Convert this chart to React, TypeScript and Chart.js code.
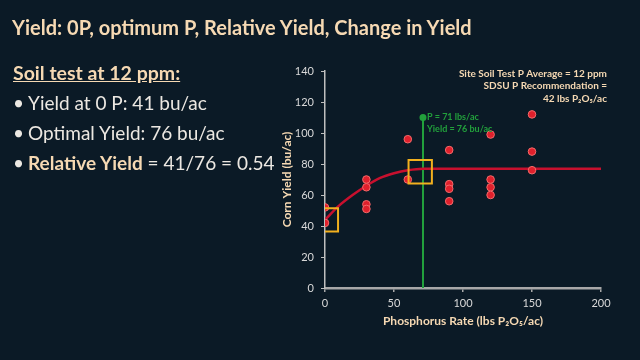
import React, { useEffect, useRef } from "react";
import { Chart, registerables } from "chart.js";

Chart.register(...registerables);

const pointRates = [0, 0, 30, 30, 30, 30, 60, 60, 90, 90, 90, 90, 120, 120, 120, 120, 150, 150, 150];
const pointYields = [52, 42, 70, 65, 54, 51, 96, 70, 89, 67, 64, 56, 99, 70, 65, 60, 112, 88, 76];

// Fitted response curve
const curveRates = [0, 10, 20, 30, 40, 50, 60, 71, 100, 150, 200];
const curveYields = [44, 53, 60, 66, 71, 74, 76, 77, 77, 77, 77];

// Optimum marker
const optimumRate = [71, 71];
const optimumYield = [0, 110];

// Highlight boxes
const boxRates = [1, 69];
const boxYields = [44, 75];

const xTicks = [0, 50, 100, 150, 200];
const yTicks = [0, 20, 40, 60, 80, 100, 120, 140];

const title = "Yield: 0P, optimum P, Relative Yield, Change in Yield";
const heading = "Soil test at 12 ppm:";
const bullet1 = "Yield at 0 P: 41 bu/ac";
const bullet2 = "Optimal Yield: 76 bu/ac";
const bullet3Bold = "Relative Yield";
const bullet3Rest = " = 41/76 = 0.54";
const noteLines = ["Site Soil Test P Average = 12 ppm", "SDSU P Recommendation =", "42 lbs P₂O₅/ac"];
const greenLines = ["P = 71 lbs/ac", "Yield = 76 bu/ac"];
const xTitle = "Phosphorus Rate (lbs P₂O₅/ac)";
const yTitle = "Corn Yield (bu/ac)";

const BG = "#0b1a26";
const PEACH = "#f6d9b3";
const LIGHT = "#ece8e2";
const GREEN = "#22a03c";
const FONT = "Lato, 'Open Sans', sans-serif";

const annotationPlugin = {
  id: "annot",
  afterDraw(chart: any) {
    const ctx = chart.ctx;
    const xs = chart.scales.x;
    const ys = chart.scales.y;
    ctx.save();
    ctx.font = `bold 10px ${FONT}`;
    ctx.fillStyle = PEACH;
    ctx.textAlign = "right";
    ctx.textBaseline = "middle";
    const noteY = [74, 86, 99];
    noteLines.forEach((t, i) => ctx.fillText(t, 607, noteY[i]));
    ctx.font = `bold 9px ${FONT}`;
    ctx.fillStyle = GREEN;
    ctx.textAlign = "left";
    const gx = xs.getPixelForValue(optimumRate[1]) + 4;
    const gy = ys.getPixelForValue(optimumYield[1]);
    greenLines.forEach((t, i) => ctx.fillText(t, gx, gy + i * 11.5));
    ctx.restore();
  },
};

export default function App() {
  const ref = useRef<HTMLCanvasElement | null>(null);
  useEffect(() => {
    if (!ref.current) return;
    const chart = new Chart(ref.current, {
      type: "scatter",
      data: {
        datasets: [
          {
            type: "scatter",
            data: boxRates.map((x, i) => ({ x, y: boxYields[i] })),
            pointStyle: "rect",
            pointRadius: 16.5,
            pointBorderWidth: 2,
            pointBorderColor: "#f2b01e",
            pointBackgroundColor: "rgba(0,0,0,0)",
            order: 0,
          } as any,
          {
            type: "scatter",
            data: pointRates.map((x, i) => ({ x, y: pointYields[i] })),
            pointRadius: 3.8,
            pointBorderWidth: 1,
            pointBorderColor: "#f46a6a",
            pointBackgroundColor: "#e0202c",
            order: 1,
          } as any,
          {
            type: "line",
            data: curveRates.map((x, i) => ({ x, y: curveYields[i] })),
            borderColor: "#c8102e",
            borderWidth: 2.5,
            pointRadius: 0,
            cubicInterpolationMode: "monotone",
            fill: false,
            order: 2,
          } as any,
          {
            type: "line",
            data: optimumRate.map((x, i) => ({ x, y: optimumYield[i] })),
            borderColor: GREEN,
            borderWidth: 2,
            pointRadius: [0, 2.5],
            pointBackgroundColor: GREEN,
            pointBorderColor: GREEN,
            fill: false,
            order: 3,
          } as any,
        ],
      },
      options: {
        responsive: false,
        animation: false,
        events: [],
        layout: { padding: { left: 276, right: 39, top: 71, bottom: 28 } },
        plugins: { legend: { display: false }, tooltip: { enabled: false } },
        scales: {
          x: {
            type: "linear",
            min: 0,
            max: 200,
            afterFit: (s: any) => { s.height = 44; },
            afterBuildTicks: (s: any) => { s.ticks = xTicks.map((v) => ({ value: v })); },
            grid: { drawOnChartArea: false, drawTicks: true, tickLength: 4, color: "#a8a8a8", lineWidth: 1.5 },
            border: { color: "#a8a8a8", width: 2.5 },
            ticks: { color: "#d9d9d9", font: { family: FONT, size: 11 }, padding: 5 },
            title: {
              display: true,
              text: xTitle,
              color: PEACH,
              font: { family: FONT, size: 12, weight: "bold" },
            },
          },
          y: {
            type: "linear",
            min: 0,
            max: 140,
            afterFit: (s: any) => { s.width = 49; },
            afterBuildTicks: (s: any) => { s.ticks = yTicks.map((v) => ({ value: v })); },
            grid: { drawOnChartArea: false, drawTicks: true, tickLength: 4, color: "#bfbfbf", lineWidth: 1 },
            border: { color: "#bfbfbf", width: 1.5 },
            ticks: { color: "#d9d9d9", font: { family: FONT, size: 11 }, padding: 7 },
            title: {
              display: true,
              text: yTitle,
              color: PEACH,
              font: { family: FONT, size: 12, weight: "bold" },
            },
          },
        },
      },
      plugins: [annotationPlugin],
    } as any);
    return () => chart.destroy();
  }, []);

  const base: React.CSSProperties = { position: "absolute", whiteSpace: "nowrap", fontFamily: FONT };
  return (
    <div style={{ position: "fixed", left: 0, top: 0, width: 640, height: 360, background: BG, overflow: "hidden" }}>
      <canvas ref={ref} width={640} height={360} style={{ position: "absolute", left: 0, top: 0, width: 640, height: 360 }} />
      <div style={{ ...base, left: 12, top: 17, fontSize: 20, lineHeight: "20px", fontWeight: 700, color: PEACH }}>{title}</div>
      <div style={{ ...base, left: 13, top: 63, fontSize: 19.5, lineHeight: "19.5px", fontWeight: 700, color: PEACH, textDecoration: "underline" }}>{heading}</div>
      <div style={{ ...base, left: 13, top: 93, fontSize: 19, lineHeight: "19px", color: LIGHT }}>
        <span style={{ marginRight: 4 }}>•</span>{bullet1}
      </div>
      <div style={{ ...base, left: 13, top: 123, fontSize: 19, lineHeight: "19px", color: LIGHT }}>
        <span style={{ marginRight: 4 }}>•</span>{bullet2}
      </div>
      <div style={{ ...base, left: 13, top: 153, fontSize: 19, lineHeight: "19px", color: LIGHT }}>
        <span style={{ marginRight: 4 }}>•</span>
        <span style={{ fontWeight: 700, color: PEACH }}>{bullet3Bold}</span>{bullet3Rest}
      </div>
    </div>
  );
}
